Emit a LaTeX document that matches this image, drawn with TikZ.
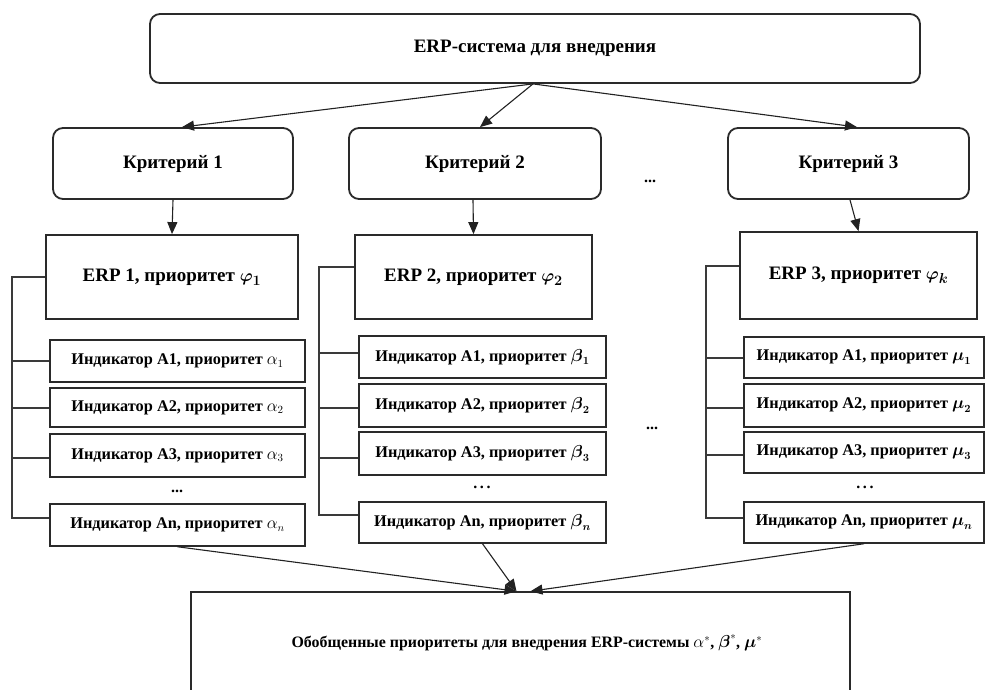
\documentclass[tikz,border=0pt]{standalone}
\usepackage{fontspec}
\setmainfont{Liberation Serif}
\usepackage{amsmath}
\usetikzlibrary{arrows.meta}
\definecolor{boxcol}{HTML}{2A2A2A}
\definecolor{linecol}{HTML}{222222}
\definecolor{brkcol}{HTML}{3A3A3A}
\newcommand{\bsym}[1]{\boldsymbol{#1}}
\begin{document}
\begin{tikzpicture}[x=1pt,y=-1pt,
  box/.style={draw=boxcol, line width=1.8pt, inner sep=0pt, align=center,
    font=\bfseries\boldmath\fontsize{19}{21}\selectfont},
  rbox/.style={box, rounded corners=10pt},
  ind/.style={box, line width=1.5pt, minimum height=40pt,
    font=\bfseries\boldmath\fontsize{16.3}{18}\selectfont},
  arr/.style={line width=1.1pt, draw=linecol, -{Triangle[length=12pt,width=10pt]}},
  brk/.style={line width=1.5pt, draw=brkcol},
  dots/.style={font=\bfseries\fontsize{16}{18}\selectfont, inner sep=0pt}]
\clip (0,0) rectangle (986,689);
% top
\node[rbox, minimum width=770pt, minimum height=69pt] (top) at (535,48.5) {ERP-система для внедрения};
% criteria
\node[rbox, minimum width=240pt, minimum height=71pt] (k1) at (173,163.5) {Критерий 1};
\node[rbox, minimum width=252pt, minimum height=71pt] (k2) at (475,163.5) {Критерий 2};
\node[rbox, minimum width=241pt, minimum height=71pt] (k3) at (848.5,163.5) {Критерий 3};
\node[dots] (d1) at (650,181) {...};
% ERP boxes
\node[box, minimum width=252pt, minimum height=84pt] (e1) at (172,277) {ERP 1, приоритет $\bsym{\varphi}_{\bsym{1}}$};
\node[box, minimum width=237pt, minimum height=84pt] (e2) at (473.5,277) {ERP 2, приоритет $\bsym{\varphi}_{\bsym{2}}$};
\node[box, minimum width=237pt, minimum height=87pt] (e3) at (858.5,275.5) {ERP 3, приоритет $\bsym{\varphi}_{\bsym{k}}$};
% indicators col 1
\node[ind, minimum width=255pt, minimum height=42pt] (a11) at (177.5,361) {Индикатор A1, приоритет {\unboldmath$\alpha_1$}};
\node[ind, minimum width=255pt, minimum height=39pt] (a12) at (177.5,407.5) {Индикатор A2, приоритет {\unboldmath$\alpha_2$}};
\node[ind, minimum width=255pt, minimum height=43pt] (a13) at (177.5,455.5) {Индикатор A3, приоритет {\unboldmath$\alpha_3$}};
\node[dots] (d11) at (177,491) {...};
\node[ind, minimum width=255pt, minimum height=42pt] (a1n) at (177.5,525) {Индикатор An, приоритет {\unboldmath$\alpha_n$}};
% indicators col 2
\node[ind, minimum width=247pt, minimum height=42pt] (a21) at (482.5,357) {Индикатор A1, приоритет $\bsym{\beta}_{\bsym{1}}$};
\node[ind, minimum width=247pt, minimum height=43pt] (a22) at (482.5,405.5) {Индикатор A2, приоритет $\bsym{\beta}_{\bsym{2}}$};
\node[ind, minimum width=247pt, minimum height=43pt] (a23) at (482.5,453.5) {Индикатор A3, приоритет $\bsym{\beta}_{\bsym{3}}$};
\node[dots] (d21) at (482,487) {.\,.\,.};
\node[ind, minimum width=247pt, minimum height=41pt] (a2n) at (482.5,522.5) {Индикатор An, приоритет $\bsym{\beta}_{\bsym{n}}$};
\node[dots] (d2) at (652,428) {...};
% indicators col 3
\node[ind, minimum width=240pt, minimum height=41pt] (a31) at (864,357.5) {Индикатор A1, приоритет $\bsym{\mu}_{\bsym{1}}$};
\node[ind, minimum width=240pt, minimum height=43pt] (a32) at (864,405.5) {Индикатор A2, приоритет $\bsym{\mu}_{\bsym{2}}$};
\node[ind, minimum width=240pt, minimum height=41pt] (a33) at (864,452.5) {Индикатор A3, приоритет $\bsym{\mu}_{\bsym{3}}$};
\node[dots] (d31) at (865,487) {.\,.\,.};
\node[ind, minimum width=240pt, minimum height=41pt] (a3n) at (864,522.5) {Индикатор An, приоритет $\bsym{\mu}_{\bsym{n}}$};
% bottom
\node[box, line width=1.5pt, minimum width=659pt, minimum height=120pt] (bot) at (520.5,652) {};
\node[font=\bfseries\fontsize{15.9}{18}\selectfont, inner sep=0pt] (bt) at (527,643) {Обобщенные приоритеты для внедрения ERP-системы {\unboldmath$\alpha^{*}$}, $\bsym{\beta}^{*}$, $\bsym{\mu}^{*}$};
% arrows top -> criteria
\draw[arr] ([xshift=-2pt]top.south) -- ([xshift=9pt]k1.north);
\draw[arr] ([xshift=-2pt]top.south) -- ([xshift=5pt]k2.north);
\draw[arr] ([xshift=-2pt]top.south) -- ([xshift=8.5pt]k3.north);
% criteria -> ERP
\draw[arr] (k1.south) -- (e1.north);
\draw[arr] ([xshift=-2pt]k2.south) -- (e2.north);
\draw[arr] ([xshift=1.5pt]k3.south) -- (e3.north);
% brackets
\coordinate (b1) at (12,0);
\coordinate (b2) at (319,0);
\coordinate (b3) at (706,0);
\draw[brk] (e1.west) -- (e1.west -| b1) -- ([yshift=7pt]a1n.west -| b1) -- ([yshift=7pt]a1n.west);
\draw[brk] (a11.west -| b1) -- (a11.west);
\draw[brk] ([yshift=-0.5pt]a12.west -| b1) -- ([yshift=-0.5pt]a12.west);
\draw[brk] ([yshift=-2.5pt]a13.west -| b1) -- ([yshift=-2.5pt]a13.west);
\draw[brk] ([yshift=10pt]e2.west) -- ([yshift=10pt]e2.west -| b2) -- ([yshift=7.5pt]a2n.west -| b2) -- ([yshift=7.5pt]a2n.west);
\draw[brk] ([yshift=4pt]a21.west -| b2) -- ([yshift=4pt]a21.west);
\draw[brk] ([yshift=-2.5pt]a22.west -| b2) -- ([yshift=-2.5pt]a22.west);
\draw[brk] ([yshift=-4.5pt]a23.west -| b2) -- ([yshift=-4.5pt]a23.west);
\draw[brk] ([yshift=9.5pt]e3.west) -- ([yshift=9.5pt]e3.west -| b3) -- ([yshift=4.5pt]a3n.west -| b3) -- ([yshift=4.5pt]a3n.west);
\draw[brk] ([yshift=-0.5pt]a31.west -| b3) -- ([yshift=-0.5pt]a31.west);
\draw[brk] ([yshift=-2.5pt]a32.west -| b3) -- ([yshift=-2.5pt]a32.west);
\draw[brk] ([yshift=-2.5pt]a33.west -| b3) -- ([yshift=-2.5pt]a33.west);
% to bottom
\draw[arr] (a1n.south) -- ([xshift=-4pt]bot.north);
\draw[arr] (a2n.south) -- ([xshift=-4pt]bot.north);
\draw[arr] (a3n.south) -- ([xshift=10pt]bot.north);
\end{tikzpicture}
\end{document}
